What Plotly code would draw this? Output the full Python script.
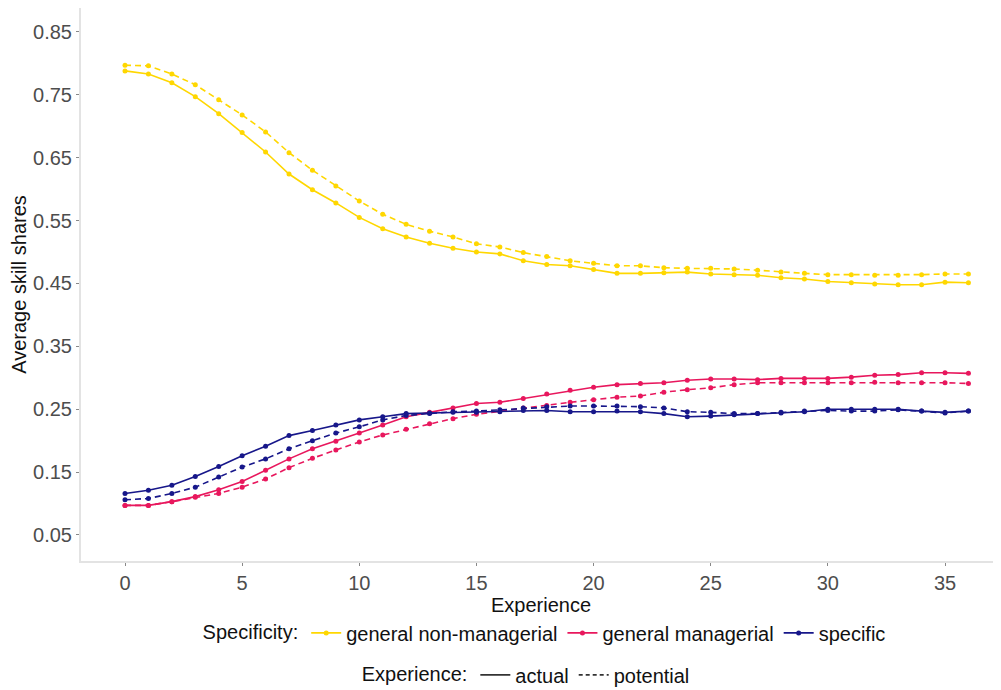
import plotly.graph_objects as go

experience = list(range(37))

gen_nonman_actual = [0.788, 0.783, 0.769, 0.747, 0.720, 0.690, 0.659, 0.624, 0.599, 0.578,
                     0.555, 0.537, 0.524, 0.514, 0.506, 0.500, 0.497, 0.486, 0.480, 0.478,
                     0.472, 0.466, 0.466, 0.467, 0.468, 0.465, 0.464, 0.463, 0.459, 0.457,
                     0.453, 0.451, 0.449, 0.448, 0.448, 0.452, 0.451]
gen_nonman_potential = [0.797, 0.796, 0.783, 0.766, 0.742, 0.718, 0.691, 0.658, 0.630, 0.605,
                        0.581, 0.560, 0.544, 0.533, 0.524, 0.513, 0.508, 0.499, 0.493, 0.486,
                        0.482, 0.478, 0.478, 0.475, 0.474, 0.474, 0.473, 0.471, 0.468, 0.466,
                        0.464, 0.464, 0.463, 0.463, 0.464, 0.465, 0.465]
gen_man_actual = [0.097, 0.097, 0.103, 0.111, 0.122, 0.135, 0.153, 0.171, 0.187, 0.199,
                  0.212, 0.225, 0.238, 0.245, 0.252, 0.259, 0.261, 0.267, 0.274, 0.280,
                  0.285, 0.289, 0.291, 0.292, 0.296, 0.298, 0.298, 0.297, 0.299, 0.299,
                  0.299, 0.301, 0.304, 0.305, 0.308, 0.308, 0.307]
gen_man_potential = [0.097, 0.097, 0.103, 0.110, 0.116, 0.126, 0.139, 0.157, 0.172, 0.185,
                     0.198, 0.209, 0.218, 0.227, 0.235, 0.242, 0.247, 0.252, 0.256, 0.261,
                     0.265, 0.269, 0.271, 0.277, 0.281, 0.284, 0.289, 0.292, 0.292, 0.292,
                     0.292, 0.292, 0.293, 0.292, 0.292, 0.292, 0.291]
specific_actual = [0.116, 0.121, 0.129, 0.143, 0.159, 0.176, 0.191, 0.208, 0.216, 0.225,
                   0.233, 0.238, 0.243, 0.244, 0.245, 0.245, 0.246, 0.248, 0.248, 0.246,
                   0.246, 0.247, 0.246, 0.243, 0.238, 0.239, 0.241, 0.243, 0.244, 0.246,
                   0.250, 0.250, 0.250, 0.250, 0.247, 0.245, 0.247]
specific_potential = [0.106, 0.108, 0.116, 0.126, 0.142, 0.158, 0.171, 0.187, 0.200, 0.212,
                      0.222, 0.233, 0.240, 0.243, 0.246, 0.247, 0.249, 0.252, 0.254, 0.255,
                      0.255, 0.255, 0.254, 0.252, 0.246, 0.245, 0.243, 0.243, 0.245, 0.247,
                      0.248, 0.247, 0.247, 0.249, 0.247, 0.244, 0.247]

series_names = ["general non-managerial", "general managerial", "specific"]
series_colors = ["#FFD700", "#E8175D", "#17178A"]
actual_values = [gen_nonman_actual, gen_man_actual, specific_actual]
potential_values = [gen_nonman_potential, gen_man_potential, specific_potential]

y_ticks = [0.05, 0.15, 0.25, 0.35, 0.45, 0.55, 0.65, 0.75, 0.85]
x_ticks = [0, 5, 10, 15, 20, 25, 30, 35]

fig = go.Figure()

for name, color, act, pot in zip(series_names, series_colors, actual_values, potential_values):
    fig.add_trace(go.Scatter(
        x=experience, y=pot, mode="lines+markers", name=name,
        line=dict(color=color, width=1.6, dash="6px,4px"),
        marker=dict(color=color, size=5),
        showlegend=False, legend="legend"))
    fig.add_trace(go.Scatter(
        x=experience, y=act, mode="lines+markers", name=name,
        line=dict(color=color, width=1.6),
        marker=dict(color=color, size=5),
        showlegend=True, legend="legend"))

fig.add_trace(go.Scatter(x=[None], y=[None], mode="lines", name="actual",
                         line=dict(color="#333333", width=1.6), legend="legend2"))
fig.add_trace(go.Scatter(x=[None], y=[None], mode="lines", name="potential",
                         line=dict(color="#333333", width=1.6, dash="4px,3px"), legend="legend2"))

font_family = "Liberation Sans, Arial, sans-serif"

# the page body adds an 8px offset, so the figure is sized to fit the remaining window
fig.update_layout(
    width=993, height=682,
    paper_bgcolor="white", plot_bgcolor="white",
    margin=dict(l=73, r=0, t=0, b=129, autoexpand=False),
    font=dict(family=font_family, size=20, color="#1a1a1a"),
    xaxis=dict(
        range=[-1.878, 37.39], tickvals=x_ticks, ticktext=[str(v) for v in x_ticks],
        showgrid=False, zeroline=False, showline=True, linecolor="#e3e3e3", linewidth=2,
        ticks="outside", ticklen=3, tickcolor="#888888", automargin=False,
        tickfont=dict(size=20, color="#4D4D4D"),
        title=dict(text="Experience", font=dict(size=20, color="#111111"), standoff=0),
    ),
    yaxis=dict(
        range=[0.0086, 0.888], tickvals=y_ticks, ticktext=[f"{v:.2f}" for v in y_ticks],
        showgrid=False, zeroline=False, showline=True, linecolor="#e3e3e3", linewidth=2,
        ticks="outside", ticklen=3, tickcolor="#888888", automargin=False,
        tickfont=dict(size=20, color="#4D4D4D"),
        title=dict(text="Average skill shares", font=dict(size=20, color="#111111"), standoff=6),
    ),
    legend=dict(
        title=dict(text="Specificity:", side="left", font=dict(size=20, color="#111111")),
        orientation="h", x=0.505, xanchor="center", y=-0.13, yanchor="middle",
        font=dict(size=20, color="#111111"), itemwidth=30, bgcolor="rgba(0,0,0,0)",
        tracegroupgap=0,
    ),
    legend2=dict(
        title=dict(text="Experience:", side="left", font=dict(size=20, color="#111111")),
        orientation="h", x=0.485, xanchor="center", y=-0.206, yanchor="middle",
        font=dict(size=20, color="#111111"), itemwidth=30, bgcolor="rgba(0,0,0,0)",
    ),
)

fig.write_html("out.html")
